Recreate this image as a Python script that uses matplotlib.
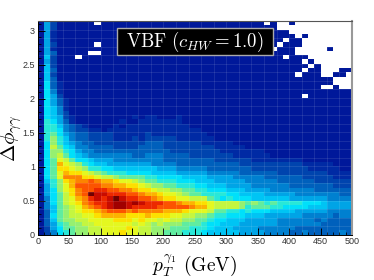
import numpy as np
import matplotlib
matplotlib.use('Agg')
import matplotlib.pyplot as plt
from matplotlib.colors import ListedColormap
from matplotlib.patches import Rectangle

plt.rcParams['mathtext.fontset'] = 'cm'
plt.rcParams['font.family'] = ['Liberation Sans', 'DejaVu Sans']

# ridge levels, top row first, 10 GeV columns, '.' = empty bin
rows = [
    "052000000. 0000000000 0000000000 000000.0.. 0.........",
    "0520000000 0000000000 0000000000 00000000.. ..........",
    "0510000000 0000000000 0000000000 0000000000 ..........",
    "0510000000 0000000000 0000000000 0000000000 0.0.......",
    "0510000000 0000000000 0000000000 000000000. 00........",
    "052000000. 0000000000 0000000000 00000000.0 00........",
    "0510000000 0000000000 0000000000 0000000.00 0.....0...",
    "05300000.. 0000000000 0000000000 0000000000 0.........",
    "062000.000 0000000000 0000000000 000000000. 000.......",
    "0520000000 0000000000 0000000000 0000000000 00.0......",
    "0620000000 0000000000 0000000000 0000000000 000.0.....",
    "0630000000 0000000000 0000000000 0000000000 00.00...00",
    "0620000000 0000000000 0000000000 0000000000 0.000..00.",
    "0630000000 0000000000 0000000000 0000000000 0000000...",
    "0731000000 0000000000 0000000000 0000000000 0000000...",
    "0731000000 0000000000 0000000000 0000000000 00000..0..",
    "0741000000 0000000000 0000000000 0000000000 0000000000",
    "0752000000 0000000000 0000000000 0000000000 00.0000000",
    "0753100000 0000000000 0000000000 0000000000 0000000000",
    "0753100000 0000000000 0000000000 0000000000 0000000000",
    "0764100000 0000000000 0000000000 0000000000 0000000000",
    "0764200000 0000000000 0000000000 0000000000 0000000000",
    "0765210000 0000010110 0010000000 0000000000 0000000000",
    "0875310000 0001001111 1110000000 0000000000 0000000000",
    "0886432100 0010111111 1111000000 0000000000 0000000000",
    "0887432211 0111111111 1111110000 0000000000 0000000000",
    "0897543322 2211111211 1111111000 0000000000 0000000000",
    "08a8643322 2211121222 2211111100 0000000000 0000000000",
    "07a8654332 2222222333 2222221111 1000000000 0000000000",
    "07b9764433 3322223333 2222222211 1110000000 0000000000",
    "07aa875443 3333333333 3222222221 1111110000 0000000000",
    "07ab976544 4444433444 3333222222 2111111000 0000000000",
    "079cb97765 5544444444 3333333322 2222111111 1100000000",
    "079ecba876 6555555544 4433333333 3322222222 2211111000",
    "079ddcba88 7766666665 5544444333 3333222222 2221111100",
    "079ceddcba 9888777766 6655555444 4433333322 2222221111",
    "079cfffddc bba9999887 7776666555 5444443333 3322222111",
    "068adeffgf eedccba998 8877766655 5554444433 3333222222",
    "058acegggg ffeeddcbaa 9988877666 5555444444 3333333222",
    "057acdfggh hggffeddcb baa9988777 6665555444 4444333333",
    "0579bdfgki ihhhggfeed ccba998888 7766665555 5444444433",
    "0479bcefhi hikihhggfe ddccbbb987 8777666666 5555554444",
    "0479bcdfgh hijjijihhh ggfeeddcbb bba9a98988 8877765555",
    "0469abcefg hijjihhhhg ggggfeecbb bba8999887 7776665555",
    "0369abcdde fgggfgffff eeedcccb99 8878777666 6555554444",
    "0379abbccd eeeedddedd dccbbaa988 7776665555 5544444344",
    "0369aabbcc ccdddcdccb cbbaa99877 6665555544 4444343333",
    "03589aabbc cccccbcbab aaa9998776 6655555544 4444433333",
    "025799aabb ccccdcbbaa a999888766 6555544444 4333333333",
    "024789aabb cccdccbbaa 9998887666 6655554444 3343333343",
]
level_colors = ['#00189a', '#002aa4', '#0044ae', '#0060bc', '#0080d0', '#00a4e6',
                '#00c4f4', '#00e0fa', '#28e8d8', '#60eca0', '#96f070', '#c4f640',
                '#e4f820', '#fce000', '#fcb400', '#fc8400', '#fc5400', '#ec2800',
                '#c80c00', '#a00000', '#700000']
digits = '0123456789abcdefghijk'
x_ticks = [0, 50, 100, 150, 200, 250, 300, 350, 400, 450, 500]
y_ticks = [0, 0.5, 1, 1.5, 2, 2.5, 3]
y_top = 3.14

# decode the rows into a masked grid, bottom row first
grid = []
for r in rows[::-1]:
    r = r.replace(" ", "")
    grid.append([digits.index(c) if c != '.' else np.nan for c in r])
grid = np.ma.masked_invalid(np.array(grid, dtype=float))

fig = plt.figure(figsize=(3.74, 2.80), dpi=100)
ax = fig.add_axes([37.7 / 374, 1 - 234.7 / 280, 314.3 / 374, 213.7 / 280])

x_edges = np.linspace(0, 500, grid.shape[1] + 1)
y_edges = np.linspace(0, y_top, grid.shape[0] + 1)
ax.pcolormesh(x_edges, y_edges, grid, cmap=ListedColormap(level_colors),
              vmin=-0.5, vmax=20.5, rasterized=True)
# faint seams between cells
ax.vlines(x_edges[2::2], 0, y_top, color='white', alpha=0.1, lw=0.7)
ax.hlines(y_edges[2::2], 0, 500, color='white', alpha=0.1, lw=0.7)

ax.set_xlim(0, 500)
ax.set_ylim(0, y_top)
ax.set_xticks(x_ticks)
ax.set_xticks(x_edges, minor=True)
ax.set_yticks(y_ticks)
ax.set_yticklabels(['0', '0.5', '1', '1.5', '2', '2.5', '3'])
ax.set_yticks(np.arange(0, 3.14, 0.1), minor=True)
ax.tick_params(which='major', direction='in', length=5, width=0.7, labelsize=6.5,
               pad=2, labelcolor='#333333')
ax.tick_params(which='minor', direction='in', length=2.5, width=0.6)
for s in ['left', 'bottom']:
    ax.spines[s].set_linewidth(0.7)
ax.spines['top'].set_color('#555555')
ax.spines['top'].set_linewidth(0.8)
ax.spines['right'].set_color('#999999')
ax.spines['right'].set_linewidth(1.5)

ax.set_xlabel(r'$p_T^{\gamma_1}\ \mathrm{(GeV)}$', fontsize=14, labelpad=4.6)
ax.set_ylabel(r'$\Delta\phi_{\gamma\gamma}$', fontsize=15)
ax.yaxis.set_label_coords(-0.045, 0.452)

# label box
ax.add_patch(Rectangle((0.2533, 0.841), 0.4948, 0.126, transform=ax.transAxes,
                       fc='black', ec='#aaaaaa', lw=1, zorder=5))
ax.text(0.5, 0.904, r'$\mathrm{VBF}\ (c_{HW}=1.0)$', transform=ax.transAxes,
        fontsize=13.5, color='white', ha='center', va='center', zorder=6)

fig.savefig('out.png', dpi=100)
